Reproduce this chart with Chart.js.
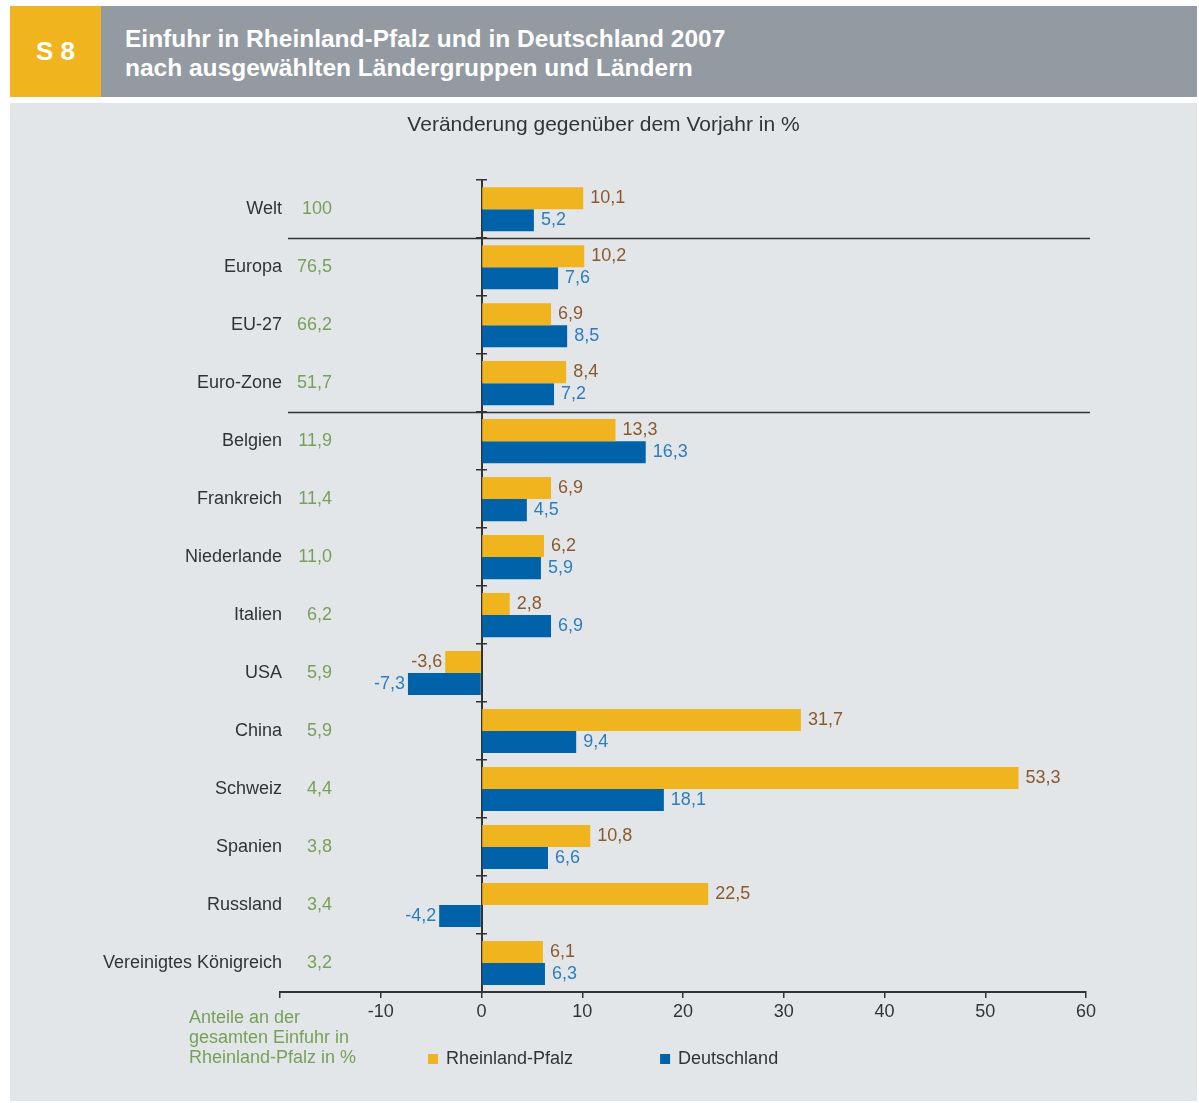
<!DOCTYPE html>
<html lang="de">
<head>
<meta charset="utf-8">
<title>S 8 – Einfuhr in Rheinland-Pfalz und in Deutschland 2007</title>
<script src="https://cdn.jsdelivr.net/npm/chart.js@4.4.1/dist/chart.umd.min.js"></script>
<style>
  html, body { margin: 0; padding: 0; background: #fff; }
  body { width: 1199px; height: 1103px; position: relative; overflow: hidden; font-family: "Liberation Sans", Arial, sans-serif; }
  .badge { position: absolute; left: 10px; top: 6px; width: 91px; height: 91px; background: #f0b51e; color: #fff;
           font-weight: bold; font-size: 26px; line-height: 91px; text-align: center; }
  .head { position: absolute; left: 101px; top: 6px; width: 1096px; height: 91px; background: #939aa1; color: #fff;
          font-weight: bold; font-size: 24.5px; line-height: 29px; box-sizing: border-box; padding: 18px 0 0 24px; }
  .panel { position: absolute; left: 10px; top: 103px; width: 1187px; height: 998px; background: #e3e6e9; }
  canvas { display: block; }
</style>
</head>
<body>
<div class="badge">S 8</div>
<div class="head">Einfuhr in Rheinland-Pfalz und in Deutschland 2007<br>nach ausgewählten Ländergruppen und Ländern</div>
<div class="panel"><canvas id="chart" width="1187" height="998"></canvas></div>

<script>
// Ländergruppen / Länder
const categories = ['Welt', 'Europa', 'EU-27', 'Euro-Zone', 'Belgien', 'Frankreich', 'Niederlande', 'Italien',
    'USA', 'China', 'Schweiz', 'Spanien', 'Russland', 'Vereinigtes Königreich'];
// Anteile an der gesamten Einfuhr in RLP (%)
const shares = [100, 76.5, 66.2, 51.7, 11.9, 11.4, 11.0, 6.2, 5.9, 5.9, 4.4, 3.8, 3.4, 3.2];
// Veränderung gegenüber dem Vorjahr (%)
const rlpValues = [10.1, 10.2, 6.9, 8.4, 13.3, 6.9, 6.2, 2.8, -3.6, 31.7, 53.3, 10.8, 22.5, 6.1];
const deValues = [5.2, 7.6, 8.5, 7.2, 16.3, 4.5, 5.9, 6.9, -7.3, 9.4, 18.1, 6.6, -4.2, 6.3];
const xMin = -20, xMax = 60, xStep = 10;
const separatorsAfter = [0, 3];
const noteLines = ['Anteile an der', 'gesamten Einfuhr in', 'Rheinland-Pfalz in %'];

const FONT = '"Liberation Sans", Arial, sans-serif';
const fmt = v => v.toFixed(1).replace('.', ',');
const fmtShare = v => v === 100 ? '100' : fmt(v);

const decorPlugin = {
    id: 'decor',
    afterDatasetsDraw(chart) {
        const { ctx, chartArea, scales: { y } } = chart;
        ctx.save();

        // Trennlinien zwischen den Gruppen
        ctx.strokeStyle = '#333';
        ctx.lineWidth = 1.3;
        separatorsAfter.forEach(i => {
            const yy = Math.round((y.getPixelForValue(i) + y.getPixelForValue(i + 1)) / 2) + 0.5;
            ctx.beginPath();
            ctx.moveTo(chartArea.left + 8, yy);
            ctx.lineTo(chartArea.right + 4, yy);
            ctx.stroke();
        });

        // Werte an den Balken
        ctx.font = '18px ' + FONT;
        ctx.textBaseline = 'middle';
        chart.data.datasets.forEach((ds, di) => {
            const meta = chart.getDatasetMeta(di);
            ctx.fillStyle = ds.labelColor;
            meta.data.forEach((bar, i) => {
                const v = ds.data[i];
                if (v >= 0) {
                    ctx.textAlign = 'left';
                    ctx.fillText(fmt(v), bar.x + 7, bar.y);
                } else {
                    ctx.textAlign = 'right';
                    ctx.fillText(fmt(v), bar.x - 3, bar.y);
                }
            });
        });

        // Ländernamen und Anteile (grüne Spalte)
        ctx.textAlign = 'right';
        chart.data.labels.forEach((name, i) => {
            const yy = y.getPixelForValue(i);
            ctx.fillStyle = '#333';
            ctx.fillText(name, chartArea.left + 2, yy);
            ctx.fillStyle = '#78a05a';
            ctx.fillText(fmtShare(shares[i]), chartArea.left + 52, yy);
        });
        ctx.restore();
    },
    afterDraw(chart) {
        const { ctx, chartArea, width } = chart;
        ctx.save();
        ctx.font = '18px ' + FONT;
        ctx.textBaseline = 'middle';

        // Hinweistext links unten
        ctx.fillStyle = '#78a05a';
        ctx.textAlign = 'left';
        noteLines.forEach((t, i) => ctx.fillText(t, chartArea.left - 91, chartArea.bottom + 26 + i * 20));

        // Legende
        const items = chart.data.datasets.map(ds => ({ text: ds.label, color: ds.backgroundColor }));
        const box = 10, gapText = 8, gapItems = 87;
        const widths = items.map(it => box + gapText + ctx.measureText(it.text).width);
        const total = widths.reduce((a, b) => a + b, 0) + gapItems * (items.length - 1);
        let cx = Math.round(width / 2 - total / 2);
        const cy = chartArea.bottom + 67;
        items.forEach((it, i) => {
            ctx.fillStyle = it.color;
            ctx.fillRect(cx, cy - 5, box, box);
            ctx.fillStyle = '#333';
            ctx.fillText(it.text, cx + box + gapText, cy);
            cx += widths[i] + gapItems;
        });
        ctx.restore();
    }
};

const zeroAxis = (tickLength, showBorder) => ({
    type: 'category',
    axis: 'y',
    position: { x: 0 },
    offset: true,
    ticks: { display: false },
    grid: { drawOnChartArea: false, offset: true, tickLength, color: '#333', lineWidth: 1.5 },
    border: { display: showBorder, color: '#333', width: 2 }
});

new Chart(document.getElementById('chart'), {
    type: 'bar',
    data: {
        labels: categories,
        datasets: [
            {
                label: 'Rheinland-Pfalz',
                data: rlpValues,
                backgroundColor: '#f0b41e',
                labelColor: '#8a5a2c',
                xAxisID: 'x', yAxisID: 'y'
            },
            {
                label: 'Deutschland',
                data: deValues,
                backgroundColor: '#0062a8',
                labelColor: '#2c7dc0',
                xAxisID: 'x', yAxisID: 'y'
            }
        ]
    },
    options: {
        indexAxis: 'y',
        responsive: false,
        animation: false,
        categoryPercentage: 0.76,
        barPercentage: 1.0,
        layout: { padding: { left: 10, right: 10, top: 0, bottom: 69 } },
        plugins: {
            legend: { display: false },
            tooltip: { enabled: false },
            title: {
                display: true,
                text: 'Veränderung gegenüber dem Vorjahr in %',
                color: '#333',
                font: { family: FONT, size: 21, weight: 'normal' },
                padding: { top: 10, bottom: 42 }
            }
        },
        scales: {
            x: {
                type: 'linear',
                position: 'bottom',
                min: xMin,
                max: xMax,
                ticks: {
                    stepSize: xStep,
                    color: '#333',
                    font: { family: FONT, size: 18 },
                    padding: 3,
                    callback: v => v === xMin ? '' : String(v)
                },
                grid: { drawOnChartArea: false, tickLength: 6, color: '#333', lineWidth: 1.5 },
                border: { color: '#333', width: 2 },
                afterFit: s => { s.height = 40; }
            },
            // Platz für Ländernamen und Anteile (werden im Plugin geschrieben)
            y: {
                type: 'category',
                position: 'left',
                offset: true,
                ticks: { display: false },
                grid: { display: false },
                border: { display: false },
                afterFit: s => { s.width = 260; }
            },
            // leerer Platzhalter rechts, damit der Titel über der ganzen Fläche zentriert bleibt
            yRight: {
                type: 'category',
                axis: 'y',
                position: 'right',
                ticks: { display: false },
                grid: { display: false },
                border: { display: false },
                afterFit: s => { s.width = 101; }
            },
            y0: zeroAxis(5, true),
            y0r: zeroAxis(-5, false)
        }
    },
    plugins: [decorPlugin]
});
</script>
</body>
</html>
